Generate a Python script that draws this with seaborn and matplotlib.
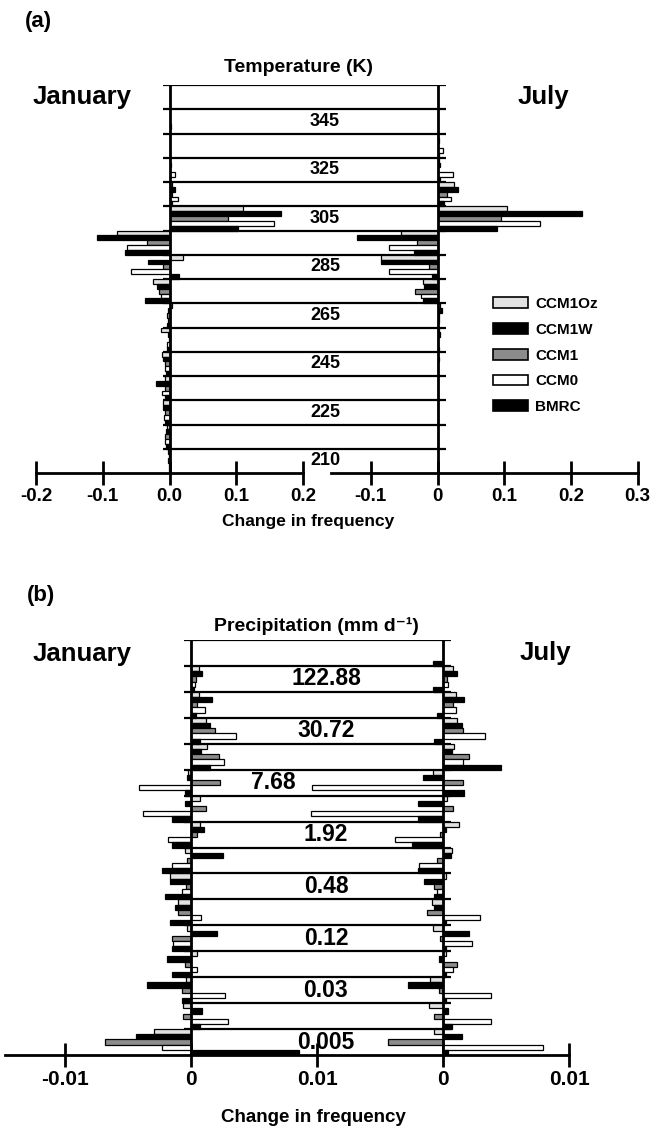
import numpy as np
import pandas as pd
import matplotlib
matplotlib.use("Agg")
import matplotlib.pyplot as plt
from matplotlib.patches import Patch
import seaborn as sns

# ---------------- data ----------------
models = ["CCM1Oz", "CCM1W", "CCM1", "CCM0", "BMRC"]

# Temperature bins (K), top to bottom
temp_bins = ["350-360", "340-350", "330-340", "320-330", "310-320", "300-310", "290-300", "280-290",
             "270-280", "260-270", "250-260", "240-250", "230-240", "220-230", "210-220", "200-210"]
temp_labels = ["345", "325", "305", "285", "265", "245", "225", "210"]
temp_label_bins = ["340-350", "320-330", "300-310", "280-290", "260-270", "240-250", "220-230", "200-210"]

temp_jan_CCM1Oz = [0, 0, 0, 0.001, 0.003, 0.110, -0.079, 0.020, -0.025, 0.004, -0.012, -0.011, -0.006, -0.009, -0.004, -0.002]
temp_jan_CCM1W = [0, 0, 0.001, 0.002, 0.008, 0.167, -0.109, -0.032, -0.019, -0.002, -0.002, -0.009, -0.020, -0.009, -0.005, -0.001]
temp_jan_CCM1 = [0, 0, 0, 0.001, 0.004, 0.088, -0.034, -0.010, -0.015, -0.003, -0.001, -0.007, -0.007, -0.007, -0.006, -0.002]
temp_jan_CCM0 = [0, 0.002, 0.001, 0.008, 0.012, 0.157, -0.064, -0.058, -0.012, -0.002, -0.003, -0.006, -0.011, -0.008, -0.006, -0.001]
temp_jan_BMRC = [0, 0, 0, 0.001, 0.004, 0.103, -0.066, 0.014, -0.036, -0.004, -0.004, -0.005, -0.006, -0.006, -0.005, -0.001]

temp_jul_CCM1Oz = [0, 0, 0, 0.002, 0.024, 0.104, -0.055, -0.085, -0.021, 0.004, 0.002, 0.001, 0.001, 0.001, 0.001, 0]
temp_jul_CCM1W = [0, 0, 0.002, 0.003, 0.030, 0.217, -0.120, -0.085, -0.020, 0.006, 0.003, 0.002, 0.001, 0.001, 0, 0]
temp_jul_CCM1 = [0, 0, 0, 0.001, 0.014, 0.095, -0.030, -0.013, -0.033, 0.002, 0.001, 0.001, 0.001, 0, 0.001, 0]
temp_jul_CCM0 = [0, 0.001, 0.008, 0.023, 0.020, 0.153, -0.072, -0.072, -0.025, 0.002, 0.001, 0.001, 0.001, 0.001, 0, 0]
temp_jul_BMRC = [0, 0, 0.002, 0.004, 0.010, 0.089, -0.035, -0.008, -0.022, 0.001, 0.002, 0.001, 0.001, 0, 0, 0]

# Precipitation bins (mm/day), top to bottom (bin mid values)
precip_bins = ["245.76", "122.88", "61.44", "30.72", "15.36", "7.68", "3.84", "1.92",
               "0.96", "0.48", "0.24", "0.12", "0.06", "0.03", "0.015", "0.0075"]
precip_labels = ["122.88", "30.72", "7.68", "1.92", "0.48", "0.12", "0.03", "0.005"]
precip_label_bins = ["122.88", "30.72", "7.68", "1.92", "0.48", "0.12", "0.03", "0.0075"]

precip_jan_CCM1Oz = [0, 0.0006, 0.0006, 0.0012, 0.0013, -0.0002, 0.0007, 0.0007, -0.0005, -0.0017, -0.0010, -0.0003, 0.0005, -0.0004, -0.0006, -0.0029]
precip_jan_CCM1W = [0, 0.0009, 0.0017, 0.0015, 0.0008, -0.0003, -0.0005, 0.0010, 0.0025, -0.0017, -0.0013, 0.0021, -0.0019, -0.0035, 0.0009, -0.0044]
precip_jan_CCM1 = [0, 0.0004, 0.0005, 0.0019, 0.0022, 0.0023, 0.0012, 0.0005, -0.0003, -0.0004, -0.0010, -0.0015, -0.0005, -0.0007, -0.0006, -0.0068]
precip_jan_CCM0 = [0, 0.0003, 0.0011, 0.0036, 0.0026, -0.0041, -0.0038, -0.0018, -0.0015, -0.0007, 0.0008, -0.0014, 0.0005, 0.0027, 0.0029, -0.0023]
precip_jan_BMRC = [0, 0.0002, 0.0004, 0.0007, 0.0015, -0.0005, -0.0015, -0.0015, -0.0023, -0.0021, -0.0017, -0.0015, -0.0015, -0.0007, 0.0007, 0.0086]

precip_jul_CCM1Oz = [0, 0.0008, 0.0010, 0.0011, 0.0009, -0.0008, 0.0003, 0.0013, 0.0007, 0.0002, -0.0009, -0.0008, 0.0002, -0.0010, -0.0011, -0.0007]
precip_jul_CCM1W = [0, 0.0011, 0.0017, 0.0015, 0.0007, -0.0016, -0.0020, 0.0002, 0.0006, -0.0015, -0.0007, 0.0021, -0.0003, -0.0028, 0.0004, 0.0015]
precip_jul_CCM1 = [0, 0.0003, 0.0008, 0.0016, 0.0021, 0.0016, 0.0008, -0.0002, -0.0005, -0.0007, -0.0013, -0.0002, 0.0011, -0.0003, -0.0007, -0.0044]
precip_jul_CCM0 = [0, 0.0004, 0.0010, 0.0033, 0.0016, -0.0104, -0.0105, -0.0038, -0.0019, -0.0005, 0.0029, 0.0023, 0.0008, 0.0038, 0.0038, 0.0079]
precip_jul_BMRC = [-0.0008, -0.0008, -0.0005, -0.0007, 0.0046, 0.0017, -0.0020, -0.0025, -0.0020, -0.0007, 0.0002, 0.0002, 0.0002, 0.0002, 0.0007, 0.0004]

temp_ticks_jan = [-0.2, -0.1, 0.0, 0.1, 0.2]
temp_ticklabels_jan = ["-0.2", "-0.1", "0.0", "0.1", "0.2"]
temp_ticks_jul = [-0.1, 0.0, 0.1, 0.2, 0.3]
temp_ticklabels_jul = ["-0.1", "0", "0.1", "0.2", "0.3"]
precip_ticks_jan = [-0.01, 0.0, 0.01]
precip_ticklabels_jan = ["-0.01", "0", "0.01"]
precip_ticks_jul = [0.0, 0.01]
precip_ticklabels_jul = ["0", "0.01"]

# ---------------- style ----------------
sns.set_theme(style="white")
plt.rcParams["font.family"] = ["Liberation Sans", "DejaVu Sans"]
plt.rcParams["text.color"] = "black"
plt.rcParams["xtick.color"] = "black"
plt.rcParams["xtick.labelcolor"] = "black"
plt.rcParams["axes.labelcolor"] = "black"

colors = {"CCM1Oz": "#e2e2e2", "CCM1W": "#000000", "CCM1": "#8c8c8c", "CCM0": "#ffffff", "BMRC": "#000000"}

W, H = 656, 1132
fig = plt.figure(figsize=(W / 100, H / 100), dpi=100)


def fx(px):
    return px / W


def fy(py):
    return 1 - py / H


def long_df(bins, series):
    rows = []
    for m, vals in zip(models, series):
        for b, v in zip(bins, vals):
            rows.append((b, m, v))
    return pd.DataFrame(rows, columns=["bin", "model", "value"])


def make_side(top, bottom, bins, series, zero_px, scale, bounds, ticks, ticklabels, tick_fs):
    ax = fig.add_axes([0, fy(bottom), 1, (bottom - top) / H])
    df = long_df(bins, series)
    sns.barplot(data=df, x="value", y="bin", hue="model", order=bins, hue_order=models,
                palette=colors, orient="h", width=1.0, dodge=True, saturation=1,
                edgecolor="black", linewidth=0.9, errorbar=None, legend=False, ax=ax, zorder=3)
    ax.set_xlim(-zero_px / scale, (W - zero_px) / scale)
    ax.set_ylim(len(bins) - 0.5, -0.5)
    ax.patch.set_visible(False)
    for s in ["left", "right", "top"]:
        ax.spines[s].set_visible(False)
    sp = ax.spines["bottom"]
    sp.set_visible(True)
    sp.set_color("black")
    sp.set_linewidth(2.0)
    sp.set_bounds(*bounds)
    ax.set_yticks([])
    ax.set_ylabel("")
    ax.set_xlabel("")
    ax.set_xticks(ticks)
    ax.set_xticklabels(ticklabels, fontsize=tick_fs, fontweight="bold", color="black")
    ax.tick_params(axis="x", direction="inout", length=17, width=2, color="black", pad=2,
                   bottom=True)
    ax.axvline(0, color="black", lw=2.0, zorder=4)
    ax.grid(False)
    return ax


# ---------------- panel (a) ----------------
a_top, a_bot = 85, 473
a_zl, a_zr, a_scale = 169.5, 437.5, 667.0
axA_L = make_side(a_top, a_bot, temp_bins,
                  [temp_jan_CCM1Oz, temp_jan_CCM1W, temp_jan_CCM1, temp_jan_CCM0, temp_jan_BMRC],
                  a_zl, a_scale, (-0.2, 0.2), temp_ticks_jan, temp_ticklabels_jan, 13.5)
axA_R = make_side(a_top, a_bot, temp_bins,
                  [temp_jul_CCM1Oz, temp_jul_CCM1W, temp_jul_CCM1, temp_jul_CCM0, temp_jul_BMRC],
                  a_zr, a_scale, (-0.16, 0.3), temp_ticks_jul, temp_ticklabels_jul, 13.5)
axA_L.hlines(np.arange(len(temp_bins)) - 0.5, -7 / a_scale, (a_zr - a_zl + 8) / a_scale,
             color="black", lw=1.6, zorder=2)
for lab, b in zip(temp_labels, temp_label_bins):
    axA_L.text((325 - a_zl) / a_scale, temp_bins.index(b), lab, ha="center", va="center",
               fontsize=13, fontweight="bold", zorder=5)

fig.text(fx(25), fy(22), "(a)", fontsize=16, fontweight="bold", ha="left", va="center")
fig.text(fx(298), fy(68), "Temperature (K)", fontsize=14, fontweight="bold", ha="center", va="center")
fig.text(fx(33), fy(97), "January", fontsize=18.5, fontweight="bold", ha="left", va="center")
fig.text(fx(518), fy(97), "July", fontsize=18.5, fontweight="bold", ha="left", va="center")
fig.text(fx(308), fy(522), "Change in frequency", fontsize=12.5, fontweight="bold", ha="center", va="center")

handles = [Patch(facecolor=colors[m], edgecolor="black", linewidth=1.2) for m in models]
leg = fig.legend(handles, models, loc="upper left", bbox_to_anchor=(fx(493), fy(297)),
                 frameon=False, prop={"weight": "bold", "size": 11},
                 handlelength=2.3, handleheight=0.7, handletextpad=0.45, labelspacing=0.77,
                 borderpad=0, borderaxespad=0)
for t in leg.get_texts():
    t.set_color("black")

# ---------------- panel (b) ----------------
b_top, b_bot = 640, 1055
b_zl, b_zr, b_scale = 191.0, 443.0, 12600.0
axB_L = make_side(b_top, b_bot, precip_bins,
                  [precip_jan_CCM1Oz, precip_jan_CCM1W, precip_jan_CCM1, precip_jan_CCM0, precip_jan_BMRC],
                  b_zl, b_scale, (-0.0148, 0.01), precip_ticks_jan, precip_ticklabels_jan, 15)
axB_R = make_side(b_top, b_bot, precip_bins,
                  [precip_jul_CCM1Oz, precip_jul_CCM1W, precip_jul_CCM1, precip_jul_CCM0, precip_jul_BMRC],
                  b_zr, b_scale, (-0.01, 0.01), precip_ticks_jul, precip_ticklabels_jul, 15)
axB_L.hlines(np.arange(len(precip_bins)) - 0.5, -7 / b_scale, (b_zr - b_zl + 8) / b_scale,
             color="black", lw=1.6, zorder=2)
for lab, b in zip(precip_labels, precip_label_bins):
    xc = 273 if lab == "7.68" else 326
    axB_L.text((xc - b_zl) / b_scale, precip_bins.index(b), lab, ha="center", va="center",
               fontsize=16.5, fontweight="bold", zorder=5)

fig.text(fx(27), fy(595), "(b)", fontsize=16, fontweight="bold", ha="left", va="center")
fig.text(fx(316), fy(626), "Precipitation (mm d⁻¹)", fontsize=14, fontweight="bold", ha="center", va="center")
fig.text(fx(33), fy(654), "January", fontsize=18.5, fontweight="bold", ha="left", va="center")
fig.text(fx(520), fy(653), "July", fontsize=18.5, fontweight="bold", ha="left", va="center")
fig.text(fx(313), fy(1117), "Change in frequency", fontsize=13.5, fontweight="bold", ha="center", va="center")

fig.savefig("out.png", dpi=100, facecolor="white")
